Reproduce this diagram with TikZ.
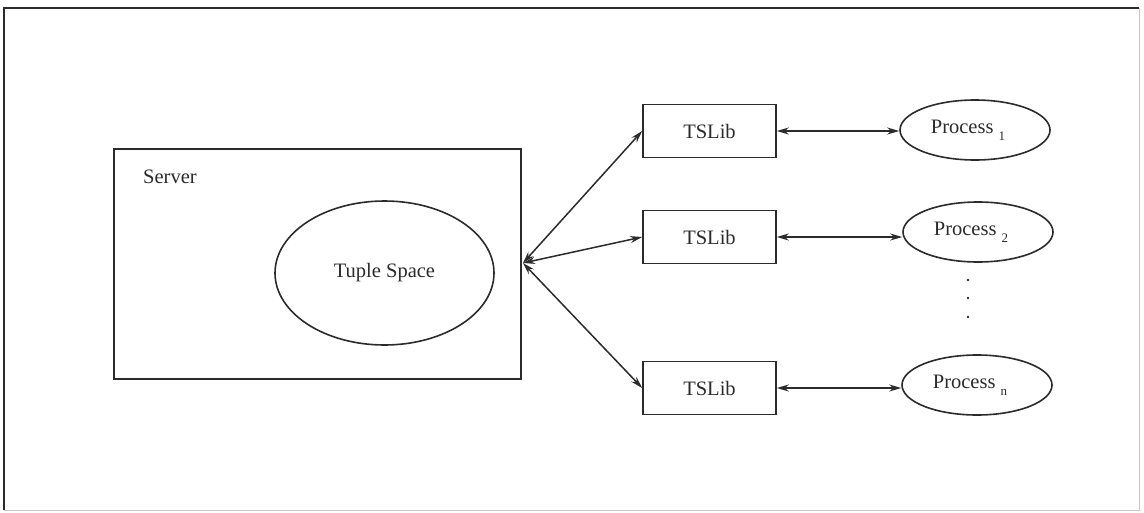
\documentclass[tikz,border=0pt]{standalone}
\usepackage{fontspec}
\setmainfont{Liberation Serif}
\usetikzlibrary{shapes.geometric,arrows.meta}
\definecolor{ink}{HTML}{2B2B2B}
\definecolor{edge}{HTML}{C8C8C8}
\newcommand{\procsub}[1]{\raisebox{-0.75ex}{\fontsize{13}{14}\selectfont #1}}
\begin{document}
\begin{tikzpicture}[x=1pt,y=-1pt,
  font=\fontsize{20.5}{24}\selectfont,
  box/.style={draw=ink,line width=1.6pt,rectangle,inner sep=0pt},
  libbox/.style={box,minimum width=133pt,minimum height=53pt},
  oval/.style={draw=ink,line width=1.6pt,ellipse,inner sep=0pt},
  procoval/.style={oval,minimum width=150pt,minimum height=60pt},
  link/.style={draw=ink,line width=1.5pt,{Stealth[length=12pt,width=7pt]}-{Stealth[length=12pt,width=7pt]}},
  txt/.style={text=ink,inner sep=0pt}]
  \useasboundingbox (0,0) rectangle (1144,512);
  % frame round the figure
  \draw[edge,line width=1pt] (1139,8) -- (1139,510) -- (4,510);
  \draw[ink,line width=2pt] (4,510) -- (4,8) -- (1139,8);
  % server with its tuple space
  \node[box,minimum width=407pt,minimum height=230pt] (server) at (317.5,264) {};
  \node[txt,anchor=base west] (servertxt) at (143,183) {Server};
  \node[oval,minimum width=219pt,minimum height=144pt,txt] (ts) at (384.5,273) {Tuple Space};
  \coordinate (hub) at (523,263);
  % client libraries
  \node[libbox,txt] (t1) at (709.5,131) {TSLib};
  \node[libbox,txt] (t2) at (709.5,237) {TSLib};
  \node[libbox,txt] (t3) at (709.5,388) {TSLib};
  % processes
  \node[procoval,txt] (p1) at (975,130) {Process \procsub{1}\hspace*{14pt}};
  \node[procoval,txt] (p2) at (978,232) {Process \procsub{2}\hspace*{14pt}};
  \node[procoval,txt] (pn) at (977,385) {Process \procsub{n}\hspace*{14pt}};
  % ellipsis between the processes
  \foreach \yy [count=\i] in {280,298,317}
    \fill[ink] (968,\yy) circle (1.4pt) coordinate (dot\i);
  % connections
  \draw[link] (hub) -- (t1.west);
  \draw[link] (hub) -- (t2.west);
  \draw[link] (hub) -- (t3.west);
  \draw[link] (t1.east) -- (t1.east -| p1.west);
  \draw[link] (t2.east) -- (t2.east -| p2.west);
  \draw[link] (t3.east) -- (t3.east -| pn.west);
\end{tikzpicture}
\end{document}
